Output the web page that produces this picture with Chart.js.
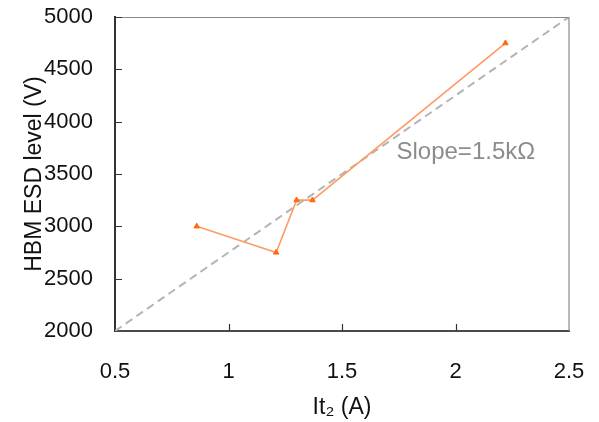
<!DOCTYPE html>
<html>
<head>
<meta charset="utf-8">
<script src="https://cdn.jsdelivr.net/npm/chart.js@4/dist/chart.umd.min.js"></script>
<style>
  html, body { margin: 0; padding: 0; background: #fff; }
  #wrap { width: 599px; height: 422px; }
</style>
</head>
<body>
<div id="wrap"><canvas id="c" width="599" height="422"></canvas></div>
<script>
// ---- data ----
const it2Values = [0.86, 1.21, 1.30, 1.37, 2.22];          // It2 (A)
const esdLevels = [3000, 2750, 3250, 3250, 4750];          // HBM ESD level (V)
const slopeLineX = [0.5, 2.5];
const slopeLineY = [2000, 5000];                            // slope 1.5 kOhm
const xTickValues = [0.5, 1, 1.5, 2, 2.5];
const yTickValues = [2000, 2500, 3000, 3500, 4000, 4500, 5000];
const slopeLabel = 'Slope=1.5kΩ';
const slopeLabelAt = [1.74, 3710];                           // data coords of label
const xTitle = 'It₂ (A)';
const yTitle = 'HBM ESD level (V)';

const FONT = "'Liberation Sans', Arial, sans-serif";

const framePlugin = {
  id: 'frame',
  afterDraw(chart) {
    const {ctx, chartArea: a, scales: {x, y}} = chart;
    ctx.save();
    // top & right borders
    ctx.strokeStyle = '#8a8a8a';
    ctx.lineWidth = 1.2;
    ctx.beginPath();
    ctx.moveTo(a.left, a.top + 0.5);
    ctx.lineTo(a.right, a.top + 0.5);
    ctx.lineTo(a.right, a.bottom);
    ctx.stroke();
    // inward tick marks
    ctx.strokeStyle = '#333';
    ctx.lineWidth = 1.2;
    ctx.beginPath();
    yTickValues.forEach(v => {
      if (v === yTickValues[0]) return;
      const py = Math.round(y.getPixelForValue(v)) + 0.5;
      ctx.moveTo(a.left, py);
      ctx.lineTo(a.left + 7, py);
    });
    xTickValues.forEach((v, i) => {
      if (i === 0 || i === xTickValues.length - 1) return;
      const px = Math.round(x.getPixelForValue(v)) + 0.5;
      ctx.moveTo(px, a.bottom);
      ctx.lineTo(px, a.bottom - 7);
    });
    ctx.stroke();
    // slope label
    ctx.fillStyle = '#8c8c8c';
    ctx.font = '24px ' + FONT;
    ctx.textAlign = 'left';
    ctx.textBaseline = 'middle';
    ctx.fillText(slopeLabel, x.getPixelForValue(slopeLabelAt[0]), y.getPixelForValue(slopeLabelAt[1]));
    ctx.restore();
  }
};

new Chart(document.getElementById('c'), {
  type: 'scatter',
  data: {
    datasets: [
      {
        label: 'slope',
        data: slopeLineX.map((v, i) => ({x: v, y: slopeLineY[i]})),
        showLine: true,
        borderColor: '#b4b4b4',
        borderWidth: 2,
        borderDash: [8, 5],
        pointRadius: 0,
        order: 2
      },
      {
        label: 'HBM',
        data: it2Values.map((v, i) => ({x: v, y: esdLevels[i]})),
        showLine: true,
        borderColor: '#ff9a66',
        borderWidth: 1.6,
        pointStyle: 'triangle',
        pointRadius: 3.2,
        pointBackgroundColor: '#ff6a10',
        pointBorderColor: '#ff6a10',
        pointBorderWidth: 1,
        order: 1
      }
    ]
  },
  options: {
    responsive: false,
    animation: false,
    devicePixelRatio: 1,
    layout: { padding: { left: 0, top: 17, right: 30, bottom: 0 } },
    plugins: { legend: { display: false }, tooltip: { enabled: false } },
    scales: {
      x: {
        type: 'linear',
        min: 0.5, max: 2.5,
        afterBuildTicks: s => { s.ticks = xTickValues.map(v => ({value: v})); },
        afterFit: s => { s.height = 91; s.paddingLeft = 0; s.paddingRight = 0; },
        grid: { display: false },
        border: { display: true, color: '#4a4a4a', width: 2 },
        ticks: { color: '#111', padding: 20, font: { family: FONT, size: 22 },
                 callback: v => String(v) },
        title: { display: true, text: xTitle, color: '#111',
                 font: { family: FONT, size: 23 }, padding: { top: 0, bottom: 1 } }
      },
      y: {
        type: 'linear',
        min: 2000, max: 5000,
        afterBuildTicks: s => { s.ticks = yTickValues.map(v => ({value: v})); },
        afterFit: s => { s.width = 115; s.paddingTop = 0; s.paddingBottom = 0; },
        grid: { display: false },
        border: { display: true, color: '#333', width: 2 },
        ticks: { color: '#111', padding: 14, font: { family: FONT, size: 22 },
                 callback: v => String(v) },
        title: { display: true, text: yTitle, color: '#111',
                 font: { family: FONT, size: 23 }, padding: { top: 21, bottom: 0 } }
      }
    }
  },
  plugins: [framePlugin]
});
</script>
</body>
</html>
